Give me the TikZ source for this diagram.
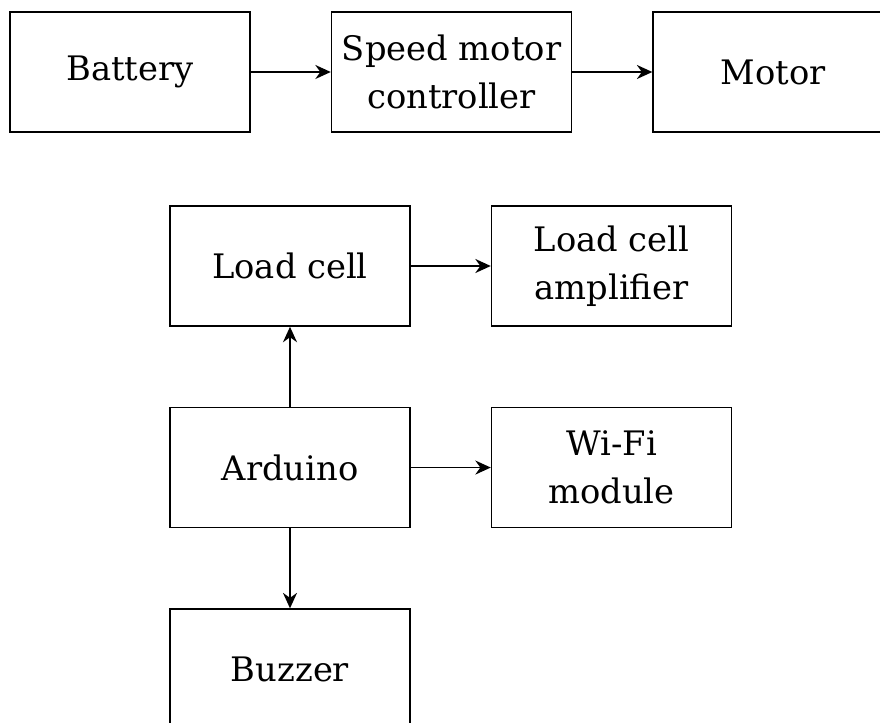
\documentclass[tikz,border=0pt]{standalone}
\usepackage{fontspec}
\setmainfont{DejaVu Serif}
\usetikzlibrary{positioning,arrows.meta}

\begin{document}
\begin{tikzpicture}[
    block/.style={draw, line width=1.1pt, minimum width=6cm, minimum height=3cm,
        align=center, font=\fontsize{24}{34}\selectfont, inner sep=0pt},
    link/.style={line width=1.1pt, -{Stealth[length=11pt, width=10pt]}}
]

\useasboundingbox (0, 0) rectangle (22, -18.075);

% Motor chain
\node[block] (battery) at (3.25, -1.8) {Battery};
\node[block, right=2cm of battery] (speedctrl) {Speed motor\\controller};
\node[block, right=2cm of speedctrl] (motor) {Motor};

% Sensor side
\node[block] (loadcell) at (7.25, -6.65) {Load cell};
\node[block, right=2cm of loadcell] (amplifier) {Load cell\\amplifier};
\node[block, below=2cm of loadcell] (arduino) {Arduino};
\node[block, right=2cm of arduino] (wifi) {Wi-Fi\\module};
\node[block, below=2cm of arduino] (buzzer) {Buzzer};

% Connections
\draw[link] (battery) -- (speedctrl);
\draw[link] (speedctrl) -- (motor);
\draw[link] (loadcell) -- (amplifier);
\draw[link] (arduino) -- (loadcell);
\draw[link] (arduino) -- (wifi);
\draw[link] (arduino) -- (buzzer);

\end{tikzpicture}
\end{document}
